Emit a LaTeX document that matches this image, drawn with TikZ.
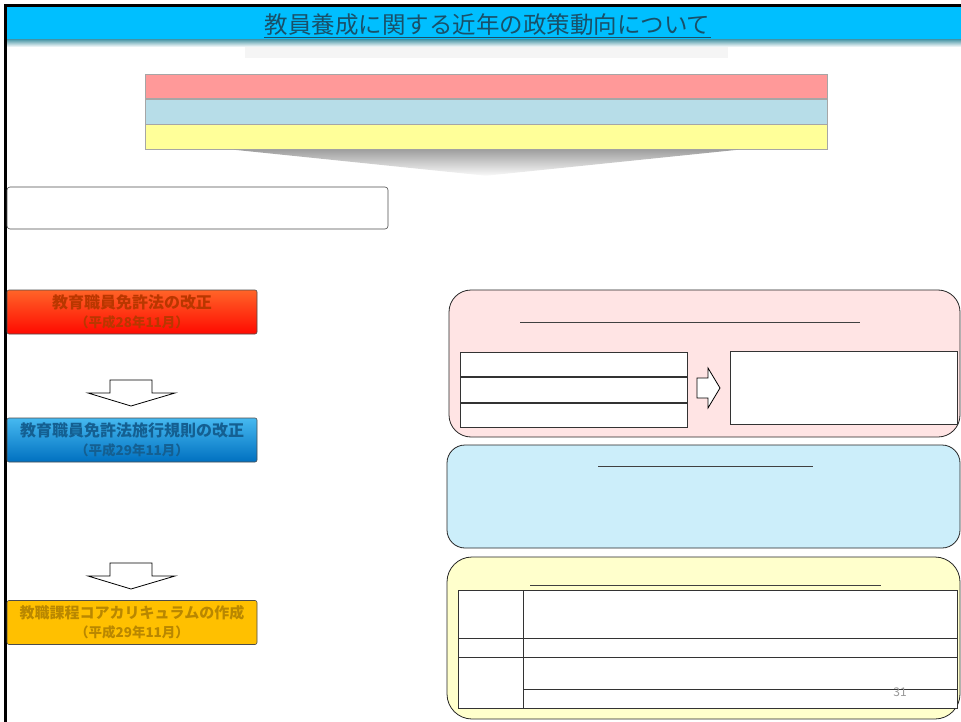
\documentclass[tikz,border=0pt]{standalone}
\usepackage{fontspec}
\setmainfont{Noto Sans CJK JP}
\usetikzlibrary{positioning}
\tikzset{>=latex}
\definecolor{bandcyan}{RGB}{0,191,255}
\definecolor{titletext}{RGB}{25,80,105}
\definecolor{barpink}{RGB}{255,153,153}
\definecolor{barblue}{RGB}{183,221,232}
\definecolor{baryellow}{RGB}{255,255,153}
\definecolor{lawtext}{RGB}{185,55,0}
\definecolor{ruletext}{RGB}{20,95,145}
\definecolor{coretext}{RGB}{185,135,0}
\definecolor{panelpink}{RGB}{255,228,228}
\definecolor{panelblue}{RGB}{204,238,250}
\definecolor{panelyellow}{RGB}{255,255,204}
\tikzset{
  bar/.style={draw=gray!70, line width=0.8pt, minimum width=682pt, minimum height=24.5pt, inner sep=0pt},
  leftbox/.style={draw=gray!60!black, line width=0.6pt, rounded corners=2pt, minimum width=250pt, minimum height=44pt,
    inner sep=0pt, align=center, font=\bfseries\fontsize{16}{17}\selectfont},
  panel/.style={draw=black!85, line width=0.8pt, inner sep=0pt},
  cell/.style={draw=black!80, line width=0.8pt, fill=white, minimum width=227pt, minimum height=24.7pt, inner sep=0pt},
  blockarrow/.style={draw=black, fill=white, line width=0.8pt, line join=miter}
}
\begin{document}
\begin{tikzpicture}[x=1pt,y=-1pt]
  \useasboundingbox (0,0) rectangle (961,722);
  % title band
  \fill[gray!8] (245,35) rectangle (728,58);
  \fill[bandcyan] (7,7) rectangle (961,40);
  \shade[top color={rgb,255:red,90;green,160;blue,175}, bottom color=white] (7,40) rectangle (961,47);
  \node[inner sep=0pt, text=titletext, font=\fontsize{23.5}{26}\selectfont] (title) at (487.5,25) {教員養成に関する近年の政策動向について};
  \draw[titletext, line width=1.2pt] ([yshift=-4pt]title.base west) -- ([yshift=-4pt]title.base east);
  \draw[line width=3pt] (5.5,722) -- (5.5,5.5) -- (961,5.5);
  % three bars
  \node[bar, fill=barpink] (pinkbar) at (486,86.5) {};
  \node[bar, fill=barblue, below=0pt of pinkbar] (bluebar) {};
  \node[bar, fill=baryellow, below=0pt of bluebar] (yellowbar) {};
  \shade[top color=gray!75, bottom color=gray!4] ([xshift=-252pt]yellowbar.south) -- ([xshift=252pt]yellowbar.south) -- ([yshift=-26pt]yellowbar.south) -- cycle;
  \node[draw=gray!60!black, line width=0.6pt, rounded corners=3pt, minimum width=381pt, minimum height=42pt] (note) at (197.5,208) {};
  % left column
  \node[leftbox, top color={rgb,255:red,255;green,100;blue,40}, bottom color={rgb,255:red,255;green,10;blue,0}, text=lawtext] (law) at (132,312)
    {教育職員免許法の改正\\[2pt]{\fontsize{13.5}{14}\selectfont （平成28年11月）}};
  \node[leftbox, top color={rgb,255:red,70;green,185;blue,240}, bottom color={rgb,255:red,0;green,112;blue,192}, text=ruletext, below of=law, node distance=128pt] (rule)
    {教育職員免許法施行規則の改正\\[2pt]{\fontsize{13.5}{14}\selectfont （平成29年11月）}};
  \node[leftbox, fill={rgb,255:red,255;green,192;blue,0}, text=coretext, below of=rule, node distance=182.5pt] (core)
    {{\fontsize{15}{17}\selectfont 教職課程コアカリキュラムの作成}\\[2pt]{\fontsize{13.5}{14}\selectfont （平成29年11月）}};
  \foreach \t in {380,563}
    \draw[blockarrow] (110,\t) -- (152,\t) -- (152,\t+13) -- (175,\t+13) -- (131,\t+26) -- (88,\t+13) -- (110,\t+13) -- cycle;
  % right column
  \node[panel, fill=panelpink, rounded corners=22pt, minimum width=511pt, minimum height=147pt] (statuspanel) at (704.5,363.5) {};
  \draw[black!75, line width=0.7pt] (520,322) -- (860,322);
  \node[cell] (rowa) at (573.5,364.5) {};
  \node[cell, below=0pt of rowa] (rowb) {};
  \node[cell, below=0pt of rowb] (rowc) {};
  \node[cell, minimum width=227pt, minimum height=73pt] (result) at (843.5,387.5) {};
  \draw[blockarrow] (697,378) -- (708,378) -- (708,368) -- (720,388) -- (708,408) -- (708,398) -- (697,398) -- cycle;
  \node[panel, fill=panelblue, rounded corners=18pt, minimum width=513pt, minimum height=103pt] (bluepanel) at (703.5,496.5) {};
  \draw[black!75, line width=0.7pt] (598,466) -- (813,466);
  \node[panel, fill=panelyellow, rounded corners=25pt, minimum width=513pt, minimum height=162pt] (yellowpanel) at (703.5,638) {};
  \draw[black!75, line width=0.7pt] (530,585) -- (881,585);
  \draw[cell] (458,590) rectangle (957,708);
  \draw[black!80, line width=0.8pt] (523,590) -- (523,708);
  \foreach \r in {638,657}
    \draw[black!80, line width=0.8pt] (458,\r) -- (957,\r);
  \draw[black!80, line width=0.8pt] (523,689) -- (957,689);
  \node[text=gray!80, font=\fontsize{12}{14}\selectfont, inner sep=0pt] (pageno) at (900,692) {31};
\end{tikzpicture}
\end{document}
